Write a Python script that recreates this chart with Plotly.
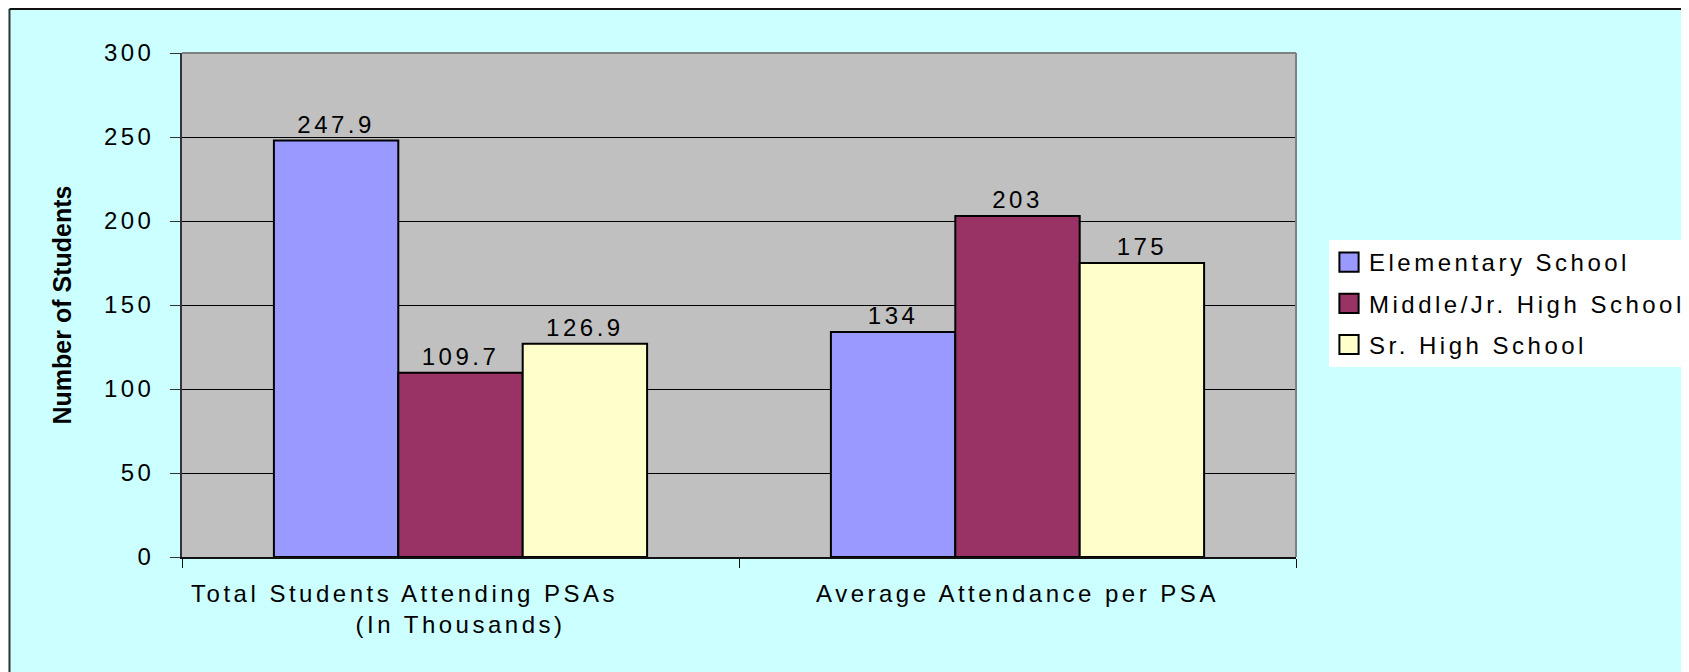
import plotly.graph_objects as go

# data
categories = [
    "Total Students Attending PSAs" + "\u00a0" * 11 + "<br>(In Thousands)",
    "Average Attendance per PSA",
]
series_names = ["Elementary School", "Middle/Jr. High School", "Sr. High School"]
elementary = [247.9, 134]
middle_jr_high = [109.7, 203]
sr_high = [126.9, 175]
value_labels = [["247.9", "134"], ["109.7", "203"], ["126.9", "175"]]
y_ticks = [0, 50, 100, 150, 200, 250, 300]

COLORS = ["#9999FF", "#993366", "#FFFFCC"]
FONT = "Liberation Sans, Arial, sans-serif"

# the page body adds an 8px margin, so figure coords = page coords - 8
W, H = 1689, 672
L, T = 174, 45
PW, PH = 1114, 504
R, B = W - L - PW, H - T - PH


def px_x(x):
    return (x - L) / PW


def px_y(y):
    return (T + PH - y) / PH


fig = go.Figure()
for name, vals, labels, color in zip(
    series_names, [elementary, middle_jr_high, sr_high], value_labels, COLORS
):
    fig.add_trace(
        go.Bar(
            x=categories,
            y=vals,
            name=name,
            legendgroup=name,
            marker=dict(color=color, line=dict(color="black", width=2)),
            text=labels,
            textposition="outside",
            textfont=dict(family=FONT, size=24, color="black"),
            cliponaxis=False,
        )
    )

shapes = [
    # chart frame (left and top edges; right and bottom run off the page)
    dict(type="line", xref="paper", yref="paper", x0=px_x(1.5), x1=px_x(1.5),
         y0=px_y(1), y1=px_y(700), line=dict(color="#333333", width=2)),
    dict(type="line", xref="paper", yref="paper", x0=px_x(1.5), x1=px_x(1720),
         y0=px_y(1), y1=px_y(1), line=dict(color="#111111", width=2)),
    # plot area top/right border
    dict(type="line", xref="paper", yref="paper", x0=0, x1=1, y0=1, y1=1,
         line=dict(color="#808080", width=2)),
    dict(type="line", xref="paper", yref="paper", x0=1, x1=1, y0=0, y1=1,
         line=dict(color="#808080", width=2)),
]

fig.update_layout(
    width=W,
    height=H,
    margin=dict(l=L, r=R, t=T, b=B, autoexpand=False),
    paper_bgcolor="#CCFFFF",
    plot_bgcolor="#C0C0C0",
    font=dict(family=FONT, size=24, color="black"),
    barmode="group",
    bargap=0.33,
    bargroupgap=0,
    shapes=shapes,
    legend=dict(
        x=px_x(1321), xanchor="left",
        y=px_y(232), yanchor="top",
        bgcolor="white",
        borderwidth=0,
        tracegroupgap=7,
        font=dict(family=FONT, size=24, color="black"),
    ),
    showlegend=True,
)

fig.update_xaxes(
    showline=True, linecolor="#111111", linewidth=2,
    ticks="outside", tickson="boundaries", ticklen=9, tickcolor="#111111",
    ticklabelstandoff=14,
    showgrid=False,
    tickfont=dict(family=FONT, size=24),
)
fig.update_yaxes(
    range=[0, 300],
    tickvals=y_ticks,
    showline=True, linecolor="#333333", linewidth=1.5,
    ticks="outside", ticklen=10, tickcolor="#333333",
    ticklabelstandoff=11,
    showgrid=True, gridcolor="black", gridwidth=1,
    zeroline=False,
    tickfont=dict(family=FONT, size=24),
    title=dict(text="<b>Number of Students</b>", standoff=36,
               font=dict(family=FONT, size=25)),
)

# the original uses widely tracked text and bigger legend swatches
post = """
var gd = document.getElementById('{plot_id}');
gd.querySelectorAll('.xtick text, .ytick text, text.legendtext, text.bartext').forEach(function(t){
  t.style.letterSpacing = '3.5px';
});
gd.querySelectorAll('.legend .scrollbox').forEach(function(e){ e.removeAttribute('clip-path'); });
gd.querySelectorAll('.legend rect.bg').forEach(function(e){ e.setAttribute('width', 420); });
gd.querySelectorAll('.legendpoints path').forEach(function(p){
  var tr = p.getAttribute('transform') || '';
  p.setAttribute('transform', tr + ' scale(1.6)');
  p.style.vectorEffect = 'non-scaling-stroke';
});
"""

fig.write_html("out.html", post_script=post)
